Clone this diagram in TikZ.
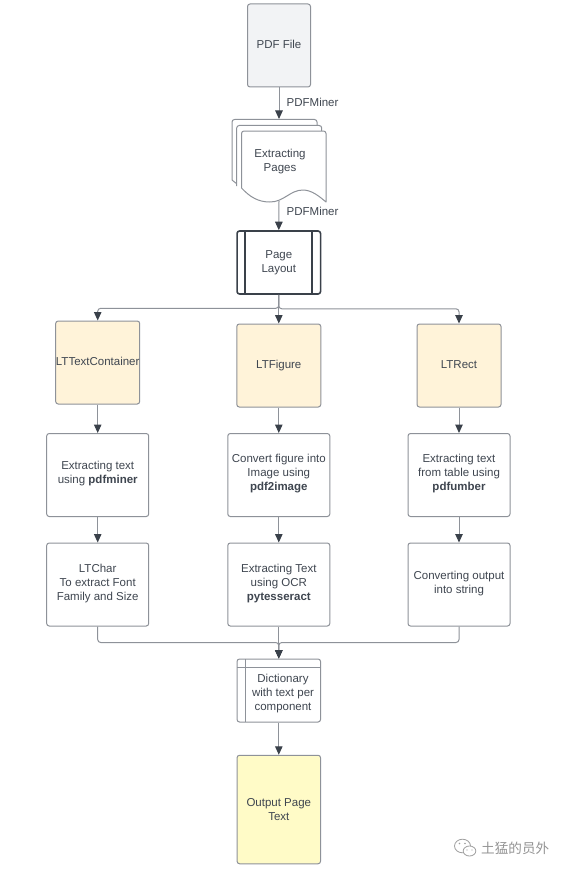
\documentclass[tikz,border=0pt]{standalone}
\usepackage{fontspec}
\setmainfont{Liberation Sans}
\newfontfamily\cjk{Noto Sans CJK SC}
\usetikzlibrary{arrows.meta}
\definecolor{ln}{HTML}{8E9299}
\definecolor{dk}{HTML}{3A414A}
\definecolor{tx}{HTML}{3F4650}
\definecolor{grayfill}{HTML}{F2F3F5}
\definecolor{orangefill}{HTML}{FFF3D9}
\definecolor{yellowfill}{HTML}{FFFBC7}
\tikzset{
  lab/.style={text=tx,font=\fontsize{11.5}{14}\selectfont,inner sep=0pt,align=center},
  base/.style={draw=ln,line width=1pt,rounded corners=2.5pt,inner sep=0pt,fill=white},
  cat/.style={base,fill=orangefill,minimum width=84pt,minimum height=83pt},
  step box/.style={base,minimum width=102pt,minimum height=83pt},
  tlabel/.style 2 args={label={[lab,yshift=#1]center:{#2}}},
  conn/.style={draw=ln,line width=1pt,-{Triangle[length=8.5pt,width=7.5pt,color=dk,fill=dk]}},
  plain/.style={draw=ln,line width=1pt},
  sheet/.style={draw=ln,line width=1pt,fill=white,line join=round}
}
\begin{document}
\begin{tikzpicture}[x=1pt,y=-1pt]
\useasboundingbox (0,0) rectangle (567,872);
\fill[white] (0,0) rectangle (567,872);

\node[base,fill=grayfill,minimum width=63pt,minimum height=83pt,tlabel={1.5pt}{PDF File}] (pdf) at (279,45.5) {};

% multi document
\draw[sheet,rounded corners=2.5pt] (232,180) -- (232,119.5) -- (317,119.5) -- (317,135);
\draw[sheet] (232,180) -- (237,184);
\draw[sheet,rounded corners=2.5pt] (236.7,186) -- (236.7,125.5) -- (321.7,125.5) -- (321.7,135);
\draw[sheet,fill=white] (241.5,188) -- (241.5,133.5) arc[start angle=180,end angle=270,radius=2.5] -- (323.5,131) arc[start angle=-90,end angle=0,radius=2.5] -- (326,202)
  .. controls (320,197) and (312,190) .. (303,190)
  .. controls (290,190) and (284,202) .. (270,202)
  .. controls (258,202) and (250,197) .. (241.5,188) -- cycle;
\node[lab] (pages) at (280,162) {Extracting\\Pages};
\coordinate (pagesin) at (279,119);
\coordinate (pagesout) at (279,201);

\node[base,draw=dk,line width=1.6pt,minimum width=83.5pt,minimum height=63pt,tlabel={0pt}{Page\\Layout}] (layout) at (278.8,262.5) {};
\draw[dk,line width=1.5pt] (245,231) -- (245,294) (312,231) -- (312,294);

\node[cat,tlabel={1.5pt}{LTTextContainer}] (c1) at (97.7,362.5) {};
\node[cat,tlabel={-.5pt}{LTFigure}] (c2) at (278.8,365.5) {};
\node[cat,tlabel={.5pt}{LTRect}] (c3) at (459,365.5) {};

\node[step box,tlabel={1pt}{Extracting text\\using \textbf{pdfminer}}] (a1) at (97.7,475) {};
\node[step box,tlabel={1pt}{Convert figure into\\Image using\\\textbf{pdf2image}}] (a2) at (278.8,475) {};
\node[step box,tlabel={1pt}{Extracting text\\from table using\\\textbf{pdfumber}}] (a3) at (459,475) {};

\node[step box,tlabel={.5pt}{LTChar\\To extract Font\\Family and Size}] (b1) at (97.7,584.5) {};
\node[step box,tlabel={.5pt}{Extracting Text\\using OCR\\\textbf{pytesseract}}] (b2) at (278.8,584.5) {};
\node[step box,tlabel={.5pt}{Converting output\\into string}] (b3) at (459,584.5) {};

\node[base,minimum width=83.5pt,minimum height=63pt] (dict) at (278.8,690.5) {};
\draw[plain] (245,659) -- (245,722) (237,667.5) -- (320.5,667.5);
\node[lab] (dtext) at (283,693.5) {Dictionary\\with text per\\component};

\node[base,fill=yellowfill,minimum width=83.5pt,minimum height=108.5pt,tlabel={0pt}{Output Page\\Text}] (out) at (278.8,809.5) {};

% connectors
\draw[conn] (pdf.south) -- (pagesin);
\draw[conn] (pagesout) -- (layout.north);
\draw[conn,rounded corners=3pt] (layout.south) -- ++(0,13.5) -| (c1.north);
\draw[conn] (layout.south) -- (c2.north);
\draw[conn,rounded corners=3pt] (layout.south) -- ++(0,14) -| (c3.north);
\foreach \i in {1,2,3}{
  \draw[conn] (c\i.south) -- (a\i.north);
  \draw[conn] (a\i.south) -- (b\i.north);
}
\draw[conn,rounded corners=3pt] (b1.south) |- (278.8,642.5) -- (dict.north);
\draw[conn] (b2.south) -- (dict.north);
\draw[conn,rounded corners=3pt] (b3.south) |- (278.8,642.5) -- (dict.north);
\draw[conn] (dict.south) -- (out.north);

\node[lab,anchor=west] (l1) at (286.5,102) {PDFMiner};
\node[lab,anchor=west] (l2) at (286.5,211) {PDFMiner};

% watermark
\draw[black!38,line width=.8pt] (462.5,846) ellipse [x radius=8,y radius=6.8];
\path[fill=white,draw=black!38,line width=.8pt] (469.5,851) ellipse [x radius=6.3,y radius=5];
\fill[black!38] (459.5,843.5) circle (.8) (465,843.5) circle (.8) (467,850) circle (.7) (472,850) circle (.7);
\node[inner sep=0pt,anchor=west,text=black!42,font=\cjk\fontsize{13.6}{14}\selectfont] (wm) at (481,848) {土猛的员外};
\end{tikzpicture}
\end{document}
